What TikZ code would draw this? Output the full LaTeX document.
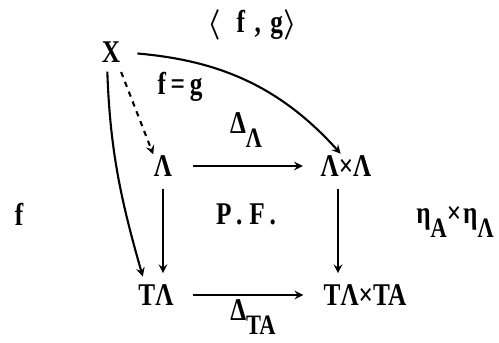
\documentclass[tikz,border=0pt]{standalone}
\usepackage{fontspec}
\setmainfont{Liberation Serif}[FakeStretch=0.8]
\usepackage{tikz}

\newcommand{\lowsub}[1]{\raisebox{-0.95ex}{\fontsize{16}{18}\selectfont #1}}

\begin{document}
\begin{tikzpicture}[x=0.02cm, y=-0.02cm, font=\fontsize{18}{21}\selectfont\bfseries\boldmath,
		obj/.style={inner sep=0pt},
		wide/.style={font=\fontsize{18}{21}\selectfont\bfseries\boldmath\addfontfeature{LetterSpace=#1}}]
	\tikzset{arr/.style={-stealth, line width=1.2pt}}
		\useasboundingbox (0,0) rectangle (499,342);

		% objects
		\node[obj] (X) at (111,52) {X};
		\node[obj] (A) at (163,166) {Λ};
		\node[obj] (AA) at (346,166) {Λ×Λ};
		\node[obj] (TA) at (156,295) {TΛ};
		\node[obj] (TATA) at (365,295) {TΛ×TA};

		% labels
		\node[wide=30] (pair) at (252,25) {$\langle$ f,g$\rangle$};
		\node[wide=15] (feqg) at (180,87) {f=g};
		\node (dA) at (246,130) {Δ\lowsub{Λ}};
		\node[wide=22] (pf) at (246,214) {P.F.};
		\node (f) at (19,214) {f};
		\node[wide=6] (eta) at (455,222) {η\lowsub{A}×η\lowsub{Λ}};
		\node (dTA) at (253,317) {Δ\lowsub{TA}};

		% square
		\draw[arr, shorten <=0.42cm, shorten >=0.35cm] (A) -- (AA);
		\draw[arr, shorten <=0.39cm, shorten >=0.4cm] (TA) -- (TATA);
		\draw[arr, shorten <=0.24cm, shorten >=0.22cm] (A) -- (A |- TA.north);
		\draw[arr, shorten <=0.24cm, shorten >=0.22cm] ([xshift=-0.16cm]AA.south) -- ([xshift=-0.16cm]AA.south |- TATA.north);

		% from X
		\draw[arr, dashed, shorten <=0.2cm, shorten >=0.02cm] ([xshift=-0.06cm]X.south east) -- (A.north west);
		\draw[arr, shorten <=0.34cm, shorten >=0.04cm] (X.east) to[out=-5, in=132] ([xshift=-0.08cm]AA.north);
		\draw[arr, shorten <=0.18cm, shorten >=0.16cm] ([xshift=-0.08cm]X.south) to[out=-88, in=106] ([xshift=-0.22cm]TA.north);
	\end{tikzpicture}
\end{document}
